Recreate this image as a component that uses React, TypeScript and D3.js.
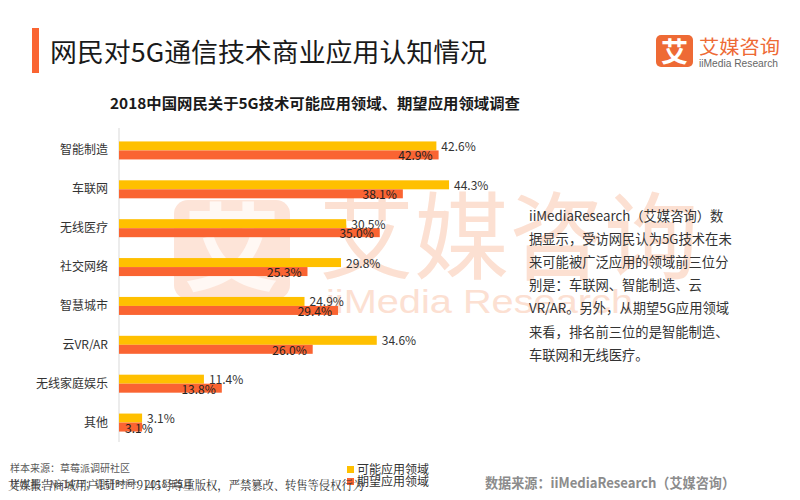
import { useEffect, useRef } from "react";
import * as d3 from "d3";

const categories = ["智能制造", "车联网", "无线医疗", "社交网络", "智慧城市", "云VR/AR", "无线家庭娱乐", "其他"];
const possibleValues = [42.6, 44.3, 30.5, 29.8, 24.9, 34.6, 11.4, 3.1];
const expectedValues = [42.9, 38.1, 35.0, 25.3, 29.4, 26.0, 13.8, 3.1];
const seriesNames = ["可能应用领域", "期望应用领域"];
const seriesColors = ["#FFC000", "#FA6432"];

const noteLines = [
  "iiMediaResearch（艾媒咨询）数",
  "据显示，受访网民认为5G技术在未",
  "来可能被广泛应用的领域前三位分",
  "别是：车联网、智能制造、云",
  "VR/AR。另外，从期望5G应用领域",
  "来看，排名前三位的是智能制造、",
  "车联网和无线医疗。",
];

const FONT = "'Noto Sans CJK SC', 'Noto Sans', sans-serif";

export default function App() {
  const svgRef = useRef<SVGSVGElement>(null);

  useEffect(() => {
    if (!svgRef.current) return;
    const W = 800;
    const H = 500;
    const svg = d3.select(svgRef.current).attr("width", W).attr("height", H);
    svg.selectAll("*").remove();
    svg.append("rect").attr("width", W).attr("height", H).attr("fill", "#fff");

    // Watermark
    const wm = svg.append("g");
    wm.append("rect")
      .attr("x", 174).attr("y", 200).attr("width", 116).attr("height", 99).attr("rx", 14)
      .attr("fill", "#fde4d8");
    wm.append("text")
      .attr("x", 232).attr("y", 283).attr("text-anchor", "middle")
      .style("font-family", FONT).style("font-size", "96px").style("font-weight", "bold")
      .attr("fill", "#fff8f4").text("艾");
    wm.append("text")
      .attr("x", 319).attr("y", 272)
      .style("font-family", FONT).style("font-size", "95px")
      .attr("fill", "#fce0d2").text("艾媒咨询");
    wm.append("text")
      .attr("x", 326).attr("y", 313)
      .attr("textLength", 307).attr("lengthAdjust", "spacingAndGlyphs")
      .style("font-family", "'Liberation Sans', Arial, sans-serif").style("font-size", "33px")
      .attr("fill", "#fce0d2").text("iiMedia Research");

    // Title
    svg.append("rect").attr("x", 32).attr("y", 28).attr("width", 7).attr("height", 45).attr("fill", "#FA6432");
    svg.append("text")
      .attr("x", 50).attr("y", 62)
      .attr("textLength", 437).attr("lengthAdjust", "spacingAndGlyphs")
      .style("font-family", FONT).style("font-size", "26px")
      .attr("fill", "#1a1a1a").text("网民对5G通信技术商业应用认知情况");

    // Logo
    svg.append("rect").attr("x", 656).attr("y", 35).attr("width", 37).attr("height", 32).attr("rx", 5).attr("fill", "#EE6A35");
    svg.append("text")
      .attr("x", 674.5).attr("y", 62).attr("text-anchor", "middle")
      .style("font-family", FONT).style("font-size", "27px").style("font-weight", "bold")
      .attr("fill", "#fff").text("艾");
    svg.append("text")
      .attr("x", 699).attr("y", 54)
      .attr("textLength", 81).attr("lengthAdjust", "spacingAndGlyphs")
      .style("font-family", FONT).style("font-size", "19px")
      .attr("fill", "#EE6A35").text("艾媒咨询");
    svg.append("text")
      .attr("x", 699).attr("y", 67)
      .attr("textLength", 79).attr("lengthAdjust", "spacingAndGlyphs")
      .style("font-family", "'Liberation Sans', Arial, sans-serif").style("font-size", "10px")
      .attr("fill", "#666").text("iiMedia Research");

    // Subtitle
    svg.append("text")
      .attr("x", 110).attr("y", 109)
      .attr("textLength", 410).attr("lengthAdjust", "spacingAndGlyphs")
      .style("font-family", FONT).style("font-size", "15px").style("font-weight", "bold")
      .attr("fill", "#1a1a1a").text("2018中国网民关于5G技术可能应用领域、期望应用领域调查");

    // Scales
    const x0 = 119;
    const xScale = d3.scaleLinear().domain([0, 50]).range([x0, x0 + 372.5]);
    const yScale = d3.scaleBand<string>().domain(categories).range([131, 442]);
    const barH = 9;

    svg.append("line")
      .attr("x1", x0).attr("x2", x0).attr("y1", 128).attr("y2", 442)
      .attr("stroke", "#d9d9d9").attr("stroke-width", 1);

    const center = (c: string) => (yScale(c) ?? 0) + yScale.bandwidth() / 2;

    // Category labels
    svg.append("g")
      .selectAll("text")
      .data(categories)
      .join("text")
      .attr("x", 108)
      .attr("y", (d) => center(d) + 4)
      .attr("text-anchor", "end")
      .style("font-family", FONT).style("font-size", "12px")
      .attr("fill", "#333")
      .text((d) => d);

    // Bars
    const g = svg.append("g");
    g.selectAll("rect.possible")
      .data(categories)
      .join("rect")
      .attr("class", "possible")
      .attr("x", x0)
      .attr("y", (d) => center(d) - barH)
      .attr("width", (_, i) => xScale(possibleValues[i]) - x0)
      .attr("height", barH)
      .attr("fill", seriesColors[0]);

    g.selectAll("rect.expected")
      .data(categories)
      .join("rect")
      .attr("class", "expected")
      .attr("x", x0)
      .attr("y", (d) => center(d))
      .attr("width", (_, i) => xScale(expectedValues[i]) - x0)
      .attr("height", barH)
      .attr("fill", seriesColors[1]);

    // Value labels
    g.selectAll("text.possible")
      .data(categories)
      .join("text")
      .attr("class", "possible")
      .attr("x", (_, i) => xScale(possibleValues[i]) + 5)
      .attr("y", (d) => center(d) + 0.5)
      .style("font-family", FONT).style("font-size", "12px")
      .attr("fill", "#333")
      .text((_, i) => `${possibleValues[i].toFixed(1)}%`);

    const redLabels = g.selectAll<SVGTextElement, string>("text.expected")
      .data(categories)
      .join("text")
      .attr("class", "expected")
      .attr("y", (d) => center(d) + 10)
      .style("font-family", FONT).style("font-size", "12px")
      .attr("fill", "#222")
      .text((_, i) => `${expectedValues[i].toFixed(1)}%`);
    redLabels.each(function (_, i) {
      const w = this.getComputedTextLength();
      const start = Math.max(xScale(expectedValues[i]) - 6 - w, x0 + 6);
      d3.select(this).attr("x", start);
    });

    // Note paragraph
    svg.append("g")
      .selectAll("text")
      .data(noteLines)
      .join("text")
      .attr("x", 529)
      .attr("y", (_, i) => 221 + i * 23.1)
      .style("font-family", FONT).style("font-size", "13.3px")
      .attr("fill", "#333")
      .text((d) => d);

    // Legend
    const legend = svg.append("g");
    seriesNames.forEach((name, i) => {
      legend.append("rect")
        .attr("x", 347).attr("y", 466 + i * 12).attr("width", 7).attr("height", 7)
        .attr("fill", seriesColors[i]);
      legend.append("text")
        .attr("x", 357).attr("y", 474 + i * 12)
        .style("font-family", FONT).style("font-size", "12px")
        .attr("fill", "#333").text(name);
    });

    // Footer
    svg.append("text")
      .attr("x", 10).attr("y", 472)
      .style("font-family", FONT).style("font-size", "10px")
      .attr("fill", "#595959").text("样本来源：草莓派调研社区");
    svg.append("text")
      .attr("x", 10).attr("y", 488)
      .style("font-family", FONT).style("font-size", "10px")
      .attr("fill", "#595959").text("样本量：N=1477；调研时间：2018年5月");
    svg.append("text")
      .attr("x", 8).attr("y", 490)
      .attr("textLength", 356).attr("lengthAdjust", "spacingAndGlyphs")
      .style("font-family", "'Noto Serif CJK SC', 'DejaVu Serif', serif").style("font-size", "12.5px")
      .attr("fill", "#333").text("艾媒报告商城用户151****9145号尊重版权，严禁篡改、转售等侵权行为");
    svg.append("text")
      .attr("x", 485).attr("y", 488)
      .attr("textLength", 250).attr("lengthAdjust", "spacingAndGlyphs")
      .style("font-family", FONT).style("font-size", "14px").style("font-weight", "bold")
      .attr("fill", "#8c8c8c").text("数据来源：iiMediaResearch（艾媒咨询）");
  }, []);

  return (
    <svg
      ref={svgRef}
      style={{ position: "absolute", left: 0, top: 0, display: "block" }}
    />
  );
}
